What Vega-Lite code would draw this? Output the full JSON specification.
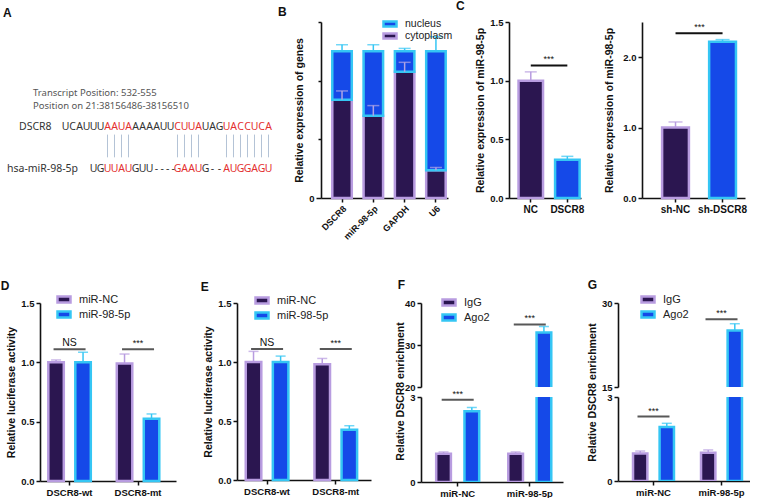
{
"$schema":"https://vega.github.io/schema/vega-lite/v6.json",
"padding":0,
"background":"white",
"config":{
 "view":{"stroke":null},
 "font":"Liberation Sans",
 "axis":{"domainColor":"#111111","domainWidth":1.6,"tickColor":"#111111","tickWidth":1.5,"tickSize":4,"labelColor":"#111111","labelFont":"Liberation Sans","labelFontWeight":"bold","labelFontSize":9.5,"titleFont":"Liberation Sans","titleFontWeight":"bold","titleFontSize":10.5,"titleColor":"#111111","grid":false,"labelPadding":2,"titlePadding":4},
 "legend":{"labelFont":"Liberation Sans","labelFontSize":11,"labelColor":"#222222","symbolStrokeWidth":2.5,"rowPadding":2,"padding":0,"labelOffset":7,"clipHeight":13},
 "title":{"font":"Liberation Sans","fontWeight":"bold","fontSize":12,"anchor":"start","color":"#111111"},
 "text":{"font":"Liberation Sans","color":"#111111"}
},
"datasets":{
 "aHead":[{"txt":"Transcript Position: 532-555","col":-4.64,"row":0},{"txt":"Position on 21:38156486-38156510","col":-4.64,"row":1}],
 "aLab":[{"txt":"DSCR8","col":-6.64,"row":2.6},{"txt":"hsa-miR-98-5p","col":-8.36,"row":5.85}],
 "aLines":[{"col":6},{"col":7},{"col":8},{"col":9},{"col":16},{"col":17},{"col":18},{"col":19},{"col":23},{"col":24},{"col":25},{"col":26},{"col":27},{"col":28},{"col":29}],
 "aSeq":[
  {"row":2.6,"col":0,"ch":"U","pair":"no"},{"row":2.6,"col":1,"ch":"C","pair":"no"},{"row":2.6,"col":2,"ch":"A","pair":"no"},{"row":2.6,"col":3,"ch":"U","pair":"no"},{"row":2.6,"col":4,"ch":"U","pair":"no"},{"row":2.6,"col":5,"ch":"U","pair":"no"},
  {"row":2.6,"col":6,"ch":"A","pair":"yes"},{"row":2.6,"col":7,"ch":"A","pair":"yes"},{"row":2.6,"col":8,"ch":"U","pair":"yes"},{"row":2.6,"col":9,"ch":"A","pair":"yes"},
  {"row":2.6,"col":10,"ch":"A","pair":"no"},{"row":2.6,"col":11,"ch":"A","pair":"no"},{"row":2.6,"col":12,"ch":"A","pair":"no"},{"row":2.6,"col":13,"ch":"A","pair":"no"},{"row":2.6,"col":14,"ch":"U","pair":"no"},{"row":2.6,"col":15,"ch":"U","pair":"no"},
  {"row":2.6,"col":16,"ch":"C","pair":"yes"},{"row":2.6,"col":17,"ch":"U","pair":"yes"},{"row":2.6,"col":18,"ch":"U","pair":"yes"},{"row":2.6,"col":19,"ch":"A","pair":"yes"},
  {"row":2.6,"col":20,"ch":"U","pair":"no"},{"row":2.6,"col":21,"ch":"A","pair":"no"},{"row":2.6,"col":22,"ch":"G","pair":"no"},
  {"row":2.6,"col":23,"ch":"U","pair":"yes"},{"row":2.6,"col":24,"ch":"A","pair":"yes"},{"row":2.6,"col":25,"ch":"C","pair":"yes"},{"row":2.6,"col":26,"ch":"C","pair":"yes"},{"row":2.6,"col":27,"ch":"U","pair":"yes"},{"row":2.6,"col":28,"ch":"C","pair":"yes"},{"row":2.6,"col":29,"ch":"A","pair":"yes"},
  {"row":5.85,"col":4,"ch":"U","pair":"no"},{"row":5.85,"col":5,"ch":"G","pair":"no"},
  {"row":5.85,"col":6,"ch":"U","pair":"yes"},{"row":5.85,"col":7,"ch":"U","pair":"yes"},{"row":5.85,"col":8,"ch":"A","pair":"yes"},{"row":5.85,"col":9,"ch":"U","pair":"yes"},
  {"row":5.85,"col":10,"ch":"G","pair":"no"},{"row":5.85,"col":11,"ch":"U","pair":"no"},{"row":5.85,"col":12,"ch":"U","pair":"no"},
  {"row":5.85,"col":13.0,"ch":"-","pair":"no"},{"row":5.85,"col":13.8,"ch":"-","pair":"no"},{"row":5.85,"col":14.6,"ch":"-","pair":"no"},{"row":5.85,"col":15.4,"ch":"-","pair":"no"},
  {"row":5.85,"col":16,"ch":"G","pair":"yes"},{"row":5.85,"col":17,"ch":"A","pair":"yes"},{"row":5.85,"col":18,"ch":"A","pair":"yes"},{"row":5.85,"col":19,"ch":"U","pair":"yes"},
  {"row":5.85,"col":20,"ch":"G","pair":"no"},{"row":5.85,"col":21,"ch":"-","pair":"no"},{"row":5.85,"col":22,"ch":"-","pair":"no"},
  {"row":5.85,"col":23,"ch":"A","pair":"yes"},{"row":5.85,"col":24,"ch":"U","pair":"yes"},{"row":5.85,"col":25,"ch":"G","pair":"yes"},{"row":5.85,"col":26,"ch":"G","pair":"yes"},{"row":5.85,"col":27,"ch":"A","pair":"yes"},{"row":5.85,"col":28,"ch":"G","pair":"yes"},{"row":5.85,"col":29,"ch":"U","pair":"yes"}
 ],
 "bData":[
  {"gene":"DSCR8","part":"cytoplasm","val":67,"ord":1},{"gene":"DSCR8","part":"nucleus","val":33,"ord":2},
  {"gene":"miR-98-5p","part":"cytoplasm","val":56,"ord":1},{"gene":"miR-98-5p","part":"nucleus","val":44,"ord":2},
  {"gene":"GAPDH","part":"cytoplasm","val":86,"ord":1},{"gene":"GAPDH","part":"nucleus","val":14,"ord":2},
  {"gene":"U6","part":"cytoplasm","val":19,"ord":1},{"gene":"U6","part":"nucleus","val":81,"ord":2}],
 "bErr":[
  {"gene":"DSCR8","part":"cytoplasm","top":67,"err":73},{"gene":"DSCR8","part":"nucleus","top":100,"err":104.5},
  {"gene":"miR-98-5p","part":"cytoplasm","top":56,"err":63},{"gene":"miR-98-5p","part":"nucleus","top":100,"err":104.5},
  {"gene":"GAPDH","part":"cytoplasm","top":86,"err":92.5},{"gene":"GAPDH","part":"nucleus","top":100,"err":102},
  {"gene":"U6","part":"cytoplasm","top":19,"err":20.8},{"gene":"U6","part":"nucleus","top":100,"err":110}],
 "c1Data":[{"cat":"NC","val":1.0,"err":1.075},{"cat":"DSCR8","val":0.325,"err":0.355}],
 "c1Sig":[{"cat":"NC","cat2":"DSCR8","y":1.13,"lab":"***"}],
 "c2Data":[{"cat":"sh-NC","val":1.0,"err":1.08},{"cat":"sh-DSCR8","val":2.22,"err":2.25}],
 "c2Sig":[{"cat":"sh-NC","cat2":"sh-DSCR8","y":2.34,"lab":"***"}],
 "dData":[{"cat":"DSCR8-wt","grp":"miR-NC","val":1.0,"err":1.02},{"cat":"DSCR8-wt","grp":"miR-98-5p","val":1.0,"err":1.085},{"cat":"DSCR8-mt","grp":"miR-NC","val":0.99,"err":1.07},{"cat":"DSCR8-mt","grp":"miR-98-5p","val":0.525,"err":0.565}],
 "dSig":[{"cat":"DSCR8-wt","y":1.11,"lab":"NS"},{"cat":"DSCR8-mt","y":1.11,"lab":"***"}],
 "eData":[{"cat":"DSCR8-wt","grp":"miR-NC","val":1.0,"err":1.09},{"cat":"DSCR8-wt","grp":"miR-98-5p","val":1.0,"err":1.05},{"cat":"DSCR8-mt","grp":"miR-NC","val":0.98,"err":1.03},{"cat":"DSCR8-mt","grp":"miR-98-5p","val":0.425,"err":0.46}],
 "eSig":[{"cat":"DSCR8-wt","y":1.11,"lab":"NS"},{"cat":"DSCR8-mt","y":1.11,"lab":"***"}],
 "fData":[{"cat":"miR-NC","grp":"IgG","val":1.0,"err":1.06},{"cat":"miR-NC","grp":"Ago2","val":2.5,"err":2.63},{"cat":"miR-98-5p","grp":"IgG","val":1.0,"err":1.06},{"cat":"miR-98-5p","grp":"Ago2","val":33.0,"err":34.4}],
 "fSig":[{"cat":"miR-NC","y":2.9,"lab":"***","seg":"bottom"},{"cat":"miR-98-5p","y":34.9,"lab":"***","seg":"top"}],
 "gData":[{"cat":"miR-NC","grp":"IgG","val":0.98,"err":1.07},{"cat":"miR-NC","grp":"Ago2","val":1.93,"err":2.06},{"cat":"miR-98-5p","grp":"IgG","val":1.01,"err":1.11},{"cat":"miR-98-5p","grp":"Ago2","val":25.1,"err":26.3}],
 "gSig":[{"cat":"miR-NC","y":2.3,"lab":"***","seg":"bottom"},{"cat":"miR-98-5p","y":27.1,"lab":"***","seg":"top"}]
},
"columns":1,
"align":"none",
"spacing":37,
"resolve":{"scale":{"fill":"independent","stroke":"independent","color":"independent","xOffset":"independent"}},
"concat":[
 {"concat":[
  {"width":235,"height":195,
   "title":{"text":"A","dx":-4,"offset":2},
   "layer":[
    {"data":{"name":"aHead"},"mark":{"type":"text","align":"left","baseline":"middle","font":"Noto Sans","fontSize":9.5,"color":"#555555"},
     "encoding":{"x":{"field":"col","type":"quantitative","scale":{"domain":[-3.643,29.93],"nice":false,"zero":false},"axis":null},"y":{"field":"row","type":"quantitative","scale":{"domain":[-5.46,9.54],"nice":false,"zero":false,"reverse":true},"axis":null},"text":{"field":"txt"}}},
    {"data":{"name":"aLab"},"mark":{"type":"text","align":"left","baseline":"middle","font":"Noto Sans","fontSize":10.5,"color":"#333333"},
     "encoding":{"x":{"field":"col","type":"quantitative"},"y":{"field":"row","type":"quantitative"},"text":{"field":"txt"}}},
    {"data":{"name":"aLines"},"mark":{"type":"rule","color":"#b4c3d6","strokeWidth":1},
     "encoding":{"x":{"field":"col","type":"quantitative"},"y":{"datum":3.2},"y2":{"datum":4.95}}},
    {"data":{"name":"aSeq"},"mark":{"type":"text","align":"center","baseline":"middle","font":"Noto Sans","fontSize":10.5},
     "encoding":{"x":{"field":"col","type":"quantitative"},"y":{"field":"row","type":"quantitative"},"text":{"field":"ch"},"color":{"field":"pair","type":"nominal","scale":{"domain":["yes","no"],"range":["#e3302f","#333333"]},"legend":null}}}
   ]},
  {"concat":[
   {"width":127,"height":176,
    "title":{"text":"B","frame":"group","dx":-43,"offset":0},
    "encoding":{"x":{"field":"gene","type":"nominal","sort":null,"scale":{"domain":["DSCR8","miR-98-5p","GAPDH","U6"],"paddingInner":0.377,"paddingOuter":0.217,"align":0.83},"axis":{"title":null,"labelAngle":-45,"labelFontSize":9}}},
    "layer":[
     {"data":{"name":"bData"},"mark":{"type":"bar","strokeWidth":2.5},
      "encoding":{"y":{"field":"val","type":"quantitative","stack":"zero","scale":{"domain":[0,120],"nice":false},"axis":{"title":"Relative expression of genes","values":[0,10,20,30,40,50,60,70,80,90,100,110,120],"labelExpr":"datum.value % 50 === 0 ? datum.label : ''","tickSize":{"condition":{"test":"datum.value % 50 === 0","value":5},"value":3}}},
       "fill":{"field":"part","type":"nominal","scale":{"domain":["nucleus","cytoplasm"],"range":["#1549e8","#2b1650"]},"legend":{"title":null,"orient":"none","legendX":61,"legendY":-3.5,"symbolType":"M-1,-0.4H1V0.4H-1Z","symbolSize":169,"labelFontSize":10.5,"rowPadding":1,"clipHeight":11}},
       "stroke":{"field":"part","type":"nominal","scale":{"domain":["nucleus","cytoplasm"],"range":["#35c6f4","#b89ce0"]},"legend":{"title":null,"orient":"none","legendX":61,"legendY":-3.5,"symbolType":"M-1,-0.4H1V0.4H-1Z","symbolSize":169,"labelFontSize":10.5,"rowPadding":1,"clipHeight":11}},
       "order":{"field":"ord","type":"quantitative"}}},
     {"data":{"name":"bErr"},"mark":{"type":"rule","strokeWidth":1.5},
      "encoding":{"y":{"field":"top","type":"quantitative"},"y2":{"field":"err"},"color":{"field":"part","type":"nominal","scale":{"domain":["nucleus","cytoplasm"],"range":["#35c6f4","#b0a4e4"]},"legend":null}}},
     {"data":{"name":"bErr"},"mark":{"type":"tick","thickness":1.5,"size":12},
      "encoding":{"y":{"field":"err","type":"quantitative"},"color":{"field":"part","type":"nominal","legend":null}}}
    ]},
   {"concat":[
    {"width":72,"height":176,
     "title":{"text":"C","frame":"group","dx":-53,"offset":-5,"dy":-9},
     "data":{"name":"c1Data"},
     "encoding":{"x":{"field":"cat","type":"nominal","sort":null,"scale":{"domain":["NC","DSCR8"],"paddingInner":0.33,"paddingOuter":0.15,"align":0.87},"axis":{"title":null,"labelAngle":0,"labelFontSize":10}}},
     "layer":[
      {"mark":{"type":"bar","strokeWidth":2.5},
       "encoding":{"y":{"field":"val","type":"quantitative","scale":{"domain":[0,1.5],"nice":false},"axis":{"title":"Relative expression of miR-98-5p","values":[0,0.5,1,1.5],"format":".1f"}},
        "fill":{"field":"cat","type":"nominal","scale":{"domain":["NC","DSCR8"],"range":["#2b1650","#1549e8"]},"legend":null},
        "stroke":{"field":"cat","type":"nominal","scale":{"domain":["NC","DSCR8"],"range":["#b89ce0","#35c6f4"]},"legend":null}}},
      {"mark":{"type":"rule","strokeWidth":1.5},"encoding":{"y":{"field":"val","type":"quantitative"},"y2":{"field":"err"},"color":{"field":"cat","type":"nominal","scale":{"domain":["NC","DSCR8"],"range":["#b89ce0","#35c6f4"]},"legend":null}}},
      {"mark":{"type":"tick","thickness":1.5,"size":12},"encoding":{"y":{"field":"err","type":"quantitative"},"color":{"field":"cat","type":"nominal","legend":null}}},
      {"data":{"name":"c1Sig"},"mark":{"type":"rule","strokeWidth":2,"color":"#111111"},"encoding":{"x2":{"field":"cat2"},"y":{"field":"y","type":"quantitative"}}},
      {"data":{"name":"c1Sig"},"mark":{"type":"text","baseline":"bottom","dy":-1,"dx":18,"fontSize":9},"encoding":{"y":{"field":"y","type":"quantitative"},"text":{"field":"lab"}}}
     ]},
    {"width":103,"height":176,
     "data":{"name":"c2Data"},
     "encoding":{"x":{"field":"cat","type":"nominal","sort":null,"scale":{"domain":["sh-NC","sh-DSCR8"],"paddingInner":0.43,"paddingOuter":0.31,"align":0.69},"axis":{"title":null,"labelAngle":0,"labelFontSize":10}}},
     "layer":[
      {"mark":{"type":"bar","strokeWidth":2.5},
       "encoding":{"y":{"field":"val","type":"quantitative","scale":{"domain":[0,2.5],"nice":false},"axis":{"title":"Relative expression of miR-98-5p","values":[0,0.5,1,1.5,2,2.5],"format":".1f","titlePadding":8}},
        "fill":{"field":"cat","type":"nominal","scale":{"domain":["sh-NC","sh-DSCR8"],"range":["#2b1650","#1549e8"]},"legend":null},
        "stroke":{"field":"cat","type":"nominal","scale":{"domain":["sh-NC","sh-DSCR8"],"range":["#b89ce0","#35c6f4"]},"legend":null}}},
      {"mark":{"type":"rule","strokeWidth":1.5},"encoding":{"y":{"field":"val","type":"quantitative"},"y2":{"field":"err"},"color":{"field":"cat","type":"nominal","scale":{"domain":["sh-NC","sh-DSCR8"],"range":["#b89ce0","#35c6f4"]},"legend":null}}},
      {"mark":{"type":"tick","thickness":1.5,"size":14},"encoding":{"y":{"field":"err","type":"quantitative"},"color":{"field":"cat","type":"nominal","legend":null}}},
      {"data":{"name":"c2Sig"},"mark":{"type":"rule","strokeWidth":2,"color":"#111111"},"encoding":{"x2":{"field":"cat2"},"y":{"field":"y","type":"quantitative"}}},
      {"data":{"name":"c2Sig"},"mark":{"type":"text","baseline":"bottom","dy":-1,"dx":24,"fontSize":9},"encoding":{"y":{"field":"y","type":"quantitative"},"text":{"field":"lab"}}}
     ]}
   ],"columns":2,"align":"none","spacing":20,
   "resolve":{"scale":{"fill":"independent","stroke":"independent","color":"independent"}}}
  ],"columns":2,"align":"none","spacing":3,
  "resolve":{"scale":{"fill":"independent","stroke":"independent","color":"independent"}}}
 ],"columns":2,"align":"none","spacing":3,
 "resolve":{"scale":{"fill":"independent","stroke":"independent","color":"independent"}}},
 {"concat":[
  {"width":136,"height":178,
   "title":{"text":"D","dx":-6,"offset":1,"dy":1},
   "encoding":{"x":{"field":"cat","type":"nominal","sort":null,"scale":{"domain":["DSCR8-wt","DSCR8-mt"],"paddingInner":0.27,"paddingOuter":0.128,"align":0.26},"axis":{"title":null,"labelAngle":0}}},
   "layer":[
    {"data":{"name":"dData"},"mark":{"type":"bar","strokeWidth":2.5},
     "encoding":{"xOffset":{"field":"grp","type":"nominal","sort":null,"scale":{"domain":["miR-NC","miR-98-5p"],"paddingInner":0.426,"paddingOuter":0.139}},
      "y":{"field":"val","type":"quantitative","scale":{"domain":[0,1.5],"nice":false},"axis":{"title":"Relative luciferase activity","values":[0,0.5,1,1.5],"format":".1f"}},
      "fill":{"field":"grp","type":"nominal","scale":{"domain":["miR-NC","miR-98-5p"],"range":["#2b1650","#1549e8"]},"legend":{"title":null,"orient":"none","legendX":16,"legendY":-10,"symbolType":"M-1,-0.45H1V0.45H-1Z","symbolSize":169}},
      "stroke":{"field":"grp","type":"nominal","scale":{"domain":["miR-NC","miR-98-5p"],"range":["#b89ce0","#35c6f4"]},"legend":{"title":null,"orient":"none","legendX":16,"legendY":-10,"symbolType":"M-1,-0.45H1V0.45H-1Z","symbolSize":169}}}},
    {"data":{"name":"dData"},"mark":{"type":"rule","strokeWidth":1.5},"encoding":{"xOffset":{"field":"grp","type":"nominal"},"y":{"field":"val","type":"quantitative"},"y2":{"field":"err"},"color":{"field":"grp","type":"nominal","scale":{"domain":["miR-NC","miR-98-5p"],"range":["#b89ce0","#35c6f4"]},"legend":null}}},
    {"data":{"name":"dData"},"mark":{"type":"tick","thickness":1.5,"size":10},"encoding":{"xOffset":{"field":"grp","type":"nominal"},"y":{"field":"err","type":"quantitative"},"color":{"field":"grp","type":"nominal","legend":null}}},
    {"data":{"name":"dSig"},"mark":{"type":"tick","thickness":2,"size":32,"color":"#111111"},"encoding":{"y":{"field":"y","type":"quantitative"}}},
    {"data":{"name":"dSig"},"transform":[{"filter":"datum.lab === 'NS'"}],"mark":{"type":"text","baseline":"bottom","dy":-1,"fontSize":10.5},"encoding":{"y":{"field":"y","type":"quantitative"},"text":{"field":"lab"}}},
    {"data":{"name":"dSig"},"transform":[{"filter":"datum.lab !== 'NS'"}],"mark":{"type":"text","baseline":"bottom","dy":-1,"fontSize":9},"encoding":{"y":{"field":"y","type":"quantitative"},"text":{"field":"lab"}}}
   ]},
  {"width":134,"height":177,
   "title":{"text":"E","dx":-3,"offset":1,"dy":1},
   "encoding":{"x":{"field":"cat","type":"nominal","sort":null,"scale":{"domain":["DSCR8-wt","DSCR8-mt"],"paddingInner":0.27,"paddingOuter":0.11,"align":0.33},"axis":{"title":null,"labelAngle":0}}},
   "layer":[
    {"data":{"name":"eData"},"mark":{"type":"bar","strokeWidth":2.5},
     "encoding":{"xOffset":{"field":"grp","type":"nominal","sort":null,"scale":{"domain":["miR-NC","miR-98-5p"],"paddingInner":0.426,"paddingOuter":0.139}},
      "y":{"field":"val","type":"quantitative","scale":{"domain":[0,1.5],"nice":false},"axis":{"title":"Relative luciferase activity","values":[0,0.5,1,1.5],"format":".1f"}},
      "fill":{"field":"grp","type":"nominal","scale":{"domain":["miR-NC","miR-98-5p"],"range":["#2b1650","#1549e8"]},"legend":{"title":null,"orient":"none","legendX":17,"legendY":-9,"symbolType":"M-1,-0.45H1V0.45H-1Z","symbolSize":169}},
      "stroke":{"field":"grp","type":"nominal","scale":{"domain":["miR-NC","miR-98-5p"],"range":["#b89ce0","#35c6f4"]},"legend":{"title":null,"orient":"none","legendX":17,"legendY":-9,"symbolType":"M-1,-0.45H1V0.45H-1Z","symbolSize":169}}}},
    {"data":{"name":"eData"},"mark":{"type":"rule","strokeWidth":1.5},"encoding":{"xOffset":{"field":"grp","type":"nominal"},"y":{"field":"val","type":"quantitative"},"y2":{"field":"err"},"color":{"field":"grp","type":"nominal","scale":{"domain":["miR-NC","miR-98-5p"],"range":["#b89ce0","#35c6f4"]},"legend":null}}},
    {"data":{"name":"eData"},"mark":{"type":"tick","thickness":1.5,"size":10},"encoding":{"xOffset":{"field":"grp","type":"nominal"},"y":{"field":"err","type":"quantitative"},"color":{"field":"grp","type":"nominal","legend":null}}},
    {"data":{"name":"eSig"},"mark":{"type":"tick","thickness":2,"size":32,"color":"#111111"},"encoding":{"y":{"field":"y","type":"quantitative"}}},
    {"data":{"name":"eSig"},"transform":[{"filter":"datum.lab === 'NS'"}],"mark":{"type":"text","baseline":"bottom","dy":-1,"fontSize":10.5},"encoding":{"y":{"field":"y","type":"quantitative"},"text":{"field":"lab"}}},
    {"data":{"name":"eSig"},"transform":[{"filter":"datum.lab !== 'NS'"}],"mark":{"type":"text","baseline":"bottom","dy":-1,"fontSize":9},"encoding":{"y":{"field":"y","type":"quantitative"},"text":{"field":"lab"}}}
   ]},
  {"title":{"text":"F","dx":2,"offset":5,"dy":1},
   "bounds":"flush",
   "spacing":10,
   "resolve":{"scale":{"fill":"independent","stroke":"independent","color":"independent","xOffset":"independent"}},
   "vconcat":[
    {"width":142,"height":84,
     "encoding":{"x":{"field":"cat","type":"nominal","sort":null,"scale":{"domain":["miR-NC","miR-98-5p"],"paddingInner":0.27,"paddingOuter":0.12,"align":0.6},"axis":null}},
     "layer":[
      {"data":{"name":"fData"},"transform":[{"filter":"datum.val > 20"}],"mark":{"type":"bar","strokeWidth":2.5,"clip":true},
       "encoding":{"xOffset":{"field":"grp","type":"nominal","sort":null,"scale":{"domain":["IgG","Ago2"],"paddingInner":0.48,"paddingOuter":0.17}},
        "y":{"field":"val","type":"quantitative","scale":{"domain":[20,40],"nice":false,"zero":false},"axis":{"title":null,"values":[20,25,30,35,40]}},
        "fill":{"field":"grp","type":"nominal","scale":{"domain":["IgG","Ago2"],"range":["#2b1650","#1549e8"]},"legend":{"title":null,"orient":"none","legendX":20,"legendY":-7,"symbolType":"M-1,-0.45H1V0.45H-1Z","symbolSize":169}},
        "stroke":{"field":"grp","type":"nominal","scale":{"domain":["IgG","Ago2"],"range":["#b89ce0","#35c6f4"]},"legend":{"title":null,"orient":"none","legendX":20,"legendY":-7,"symbolType":"M-1,-0.45H1V0.45H-1Z","symbolSize":169}}}},
      {"data":{"name":"fData"},"transform":[{"filter":"datum.val > 20"}],"mark":{"type":"rule","strokeWidth":1.5},"encoding":{"xOffset":{"field":"grp","type":"nominal"},"y":{"field":"val","type":"quantitative"},"y2":{"field":"err"},"color":{"field":"grp","type":"nominal","scale":{"domain":["IgG","Ago2"],"range":["#b89ce0","#35c6f4"]},"legend":null}}},
      {"data":{"name":"fData"},"transform":[{"filter":"datum.val > 20"}],"mark":{"type":"tick","thickness":1.5,"size":10},"encoding":{"xOffset":{"field":"grp","type":"nominal"},"y":{"field":"err","type":"quantitative"},"color":{"field":"grp","type":"nominal","legend":null}}},
      {"data":{"name":"fSig"},"transform":[{"filter":"datum.seg === 'top'"}],"mark":{"type":"tick","thickness":2,"size":32,"color":"#111111"},"encoding":{"y":{"field":"y","type":"quantitative"}}},
      {"data":{"name":"fSig"},"transform":[{"filter":"datum.seg === 'top'"}],"mark":{"type":"text","baseline":"bottom","dy":-1,"fontSize":9},"encoding":{"y":{"field":"y","type":"quantitative"},"text":{"field":"lab"}}}
     ]},
    {"width":142,"height":85,
     "encoding":{"x":{"field":"cat","type":"nominal","sort":null,"scale":{"domain":["miR-NC","miR-98-5p"],"paddingInner":0.27,"paddingOuter":0.12,"align":0.6},"axis":{"title":null,"labelAngle":0}}},
     "layer":[
      {"data":{"name":"fData"},"mark":{"type":"bar","strokeWidth":2.5,"clip":true},
       "encoding":{"xOffset":{"field":"grp","type":"nominal","sort":null,"scale":{"domain":["IgG","Ago2"],"paddingInner":0.48,"paddingOuter":0.17}},
        "y":{"field":"val","type":"quantitative","scale":{"domain":[0,3],"nice":false},"axis":{"title":"Relative DSCR8 enrichment","values":[0,1,2,3],"titleY":-6}},
        "fill":{"field":"grp","type":"nominal","scale":{"domain":["IgG","Ago2"],"range":["#2b1650","#1549e8"]},"legend":null},
        "stroke":{"field":"grp","type":"nominal","scale":{"domain":["IgG","Ago2"],"range":["#b89ce0","#35c6f4"]},"legend":null}}},
      {"data":{"name":"fData"},"transform":[{"filter":"datum.err <= 3"}],"mark":{"type":"rule","strokeWidth":1.5},"encoding":{"xOffset":{"field":"grp","type":"nominal"},"y":{"field":"val","type":"quantitative"},"y2":{"field":"err"},"color":{"field":"grp","type":"nominal","scale":{"domain":["IgG","Ago2"],"range":["#b89ce0","#35c6f4"]},"legend":null}}},
      {"data":{"name":"fData"},"transform":[{"filter":"datum.err <= 3"}],"mark":{"type":"tick","thickness":1.5,"size":10},"encoding":{"xOffset":{"field":"grp","type":"nominal"},"y":{"field":"err","type":"quantitative"},"color":{"field":"grp","type":"nominal","legend":null}}},
      {"data":{"name":"fSig"},"transform":[{"filter":"datum.seg === 'bottom'"}],"mark":{"type":"tick","thickness":2,"size":32,"color":"#111111"},"encoding":{"y":{"field":"y","type":"quantitative"}}},
      {"data":{"name":"fSig"},"transform":[{"filter":"datum.seg === 'bottom'"}],"mark":{"type":"text","baseline":"bottom","dy":-1,"fontSize":9},"encoding":{"y":{"field":"y","type":"quantitative"},"text":{"field":"lab"}}}
     ]}
   ]},
  {"title":{"text":"G","dx":0,"offset":2,"dy":1},
   "bounds":"flush",
   "spacing":10,
   "resolve":{"scale":{"fill":"independent","stroke":"independent","color":"independent","xOffset":"independent"}},
   "vconcat":[
    {"width":132,"height":84,
     "encoding":{"x":{"field":"cat","type":"nominal","sort":null,"scale":{"domain":["miR-NC","miR-98-5p"],"paddingInner":0.265,"paddingOuter":0.103,"align":0.75},"axis":null}},
     "layer":[
      {"data":{"name":"gData"},"transform":[{"filter":"datum.val > 15"}],"mark":{"type":"bar","strokeWidth":2.5,"clip":true},
       "encoding":{"xOffset":{"field":"grp","type":"nominal","sort":null,"scale":{"domain":["IgG","Ago2"],"paddingInner":0.46,"paddingOuter":0.17}},
        "y":{"field":"val","type":"quantitative","scale":{"domain":[15,30],"nice":false,"zero":false},"axis":{"title":null,"values":[15,20,25,30],"titlePadding":9}},
        "fill":{"field":"grp","type":"nominal","scale":{"domain":["IgG","Ago2"],"range":["#2b1650","#1549e8"]},"legend":{"title":null,"orient":"none","legendX":22,"legendY":-10,"symbolType":"M-1,-0.45H1V0.45H-1Z","symbolSize":169}},
        "stroke":{"field":"grp","type":"nominal","scale":{"domain":["IgG","Ago2"],"range":["#b89ce0","#35c6f4"]},"legend":{"title":null,"orient":"none","legendX":22,"legendY":-10,"symbolType":"M-1,-0.45H1V0.45H-1Z","symbolSize":169}}}},
      {"data":{"name":"gData"},"transform":[{"filter":"datum.val > 15"}],"mark":{"type":"rule","strokeWidth":1.5},"encoding":{"xOffset":{"field":"grp","type":"nominal"},"y":{"field":"val","type":"quantitative"},"y2":{"field":"err"},"color":{"field":"grp","type":"nominal","scale":{"domain":["IgG","Ago2"],"range":["#b89ce0","#35c6f4"]},"legend":null}}},
      {"data":{"name":"gData"},"transform":[{"filter":"datum.val > 15"}],"mark":{"type":"tick","thickness":1.5,"size":10},"encoding":{"xOffset":{"field":"grp","type":"nominal"},"y":{"field":"err","type":"quantitative"},"color":{"field":"grp","type":"nominal","legend":null}}},
      {"data":{"name":"gSig"},"transform":[{"filter":"datum.seg === 'top'"}],"mark":{"type":"tick","thickness":2,"size":32,"color":"#111111"},"encoding":{"y":{"field":"y","type":"quantitative"}}},
      {"data":{"name":"gSig"},"transform":[{"filter":"datum.seg === 'top'"}],"mark":{"type":"text","baseline":"bottom","dy":-1,"fontSize":9},"encoding":{"y":{"field":"y","type":"quantitative"},"text":{"field":"lab"}}}
     ]},
    {"width":132,"height":84,
     "encoding":{"x":{"field":"cat","type":"nominal","sort":null,"scale":{"domain":["miR-NC","miR-98-5p"],"paddingInner":0.265,"paddingOuter":0.103,"align":0.75},"axis":{"title":null,"labelAngle":0}}},
     "layer":[
      {"data":{"name":"gData"},"mark":{"type":"bar","strokeWidth":2.5,"clip":true},
       "encoding":{"xOffset":{"field":"grp","type":"nominal","sort":null,"scale":{"domain":["IgG","Ago2"],"paddingInner":0.46,"paddingOuter":0.17}},
        "y":{"field":"val","type":"quantitative","scale":{"domain":[0,3],"nice":false},"axis":{"title":"Relative DSCR8 enrichment","values":[0,1,2,3],"titleY":-5,"titlePadding":9}},
        "fill":{"field":"grp","type":"nominal","scale":{"domain":["IgG","Ago2"],"range":["#2b1650","#1549e8"]},"legend":null},
        "stroke":{"field":"grp","type":"nominal","scale":{"domain":["IgG","Ago2"],"range":["#b89ce0","#35c6f4"]},"legend":null}}},
      {"data":{"name":"gData"},"transform":[{"filter":"datum.err <= 3"}],"mark":{"type":"rule","strokeWidth":1.5},"encoding":{"xOffset":{"field":"grp","type":"nominal"},"y":{"field":"val","type":"quantitative"},"y2":{"field":"err"},"color":{"field":"grp","type":"nominal","scale":{"domain":["IgG","Ago2"],"range":["#b89ce0","#35c6f4"]},"legend":null}}},
      {"data":{"name":"gData"},"transform":[{"filter":"datum.err <= 3"}],"mark":{"type":"tick","thickness":1.5,"size":10},"encoding":{"xOffset":{"field":"grp","type":"nominal"},"y":{"field":"err","type":"quantitative"},"color":{"field":"grp","type":"nominal","legend":null}}},
      {"data":{"name":"gSig"},"transform":[{"filter":"datum.seg === 'bottom'"}],"mark":{"type":"tick","thickness":2,"size":32,"color":"#111111"},"encoding":{"y":{"field":"y","type":"quantitative"}}},
      {"data":{"name":"gSig"},"transform":[{"filter":"datum.seg === 'bottom'"}],"mark":{"type":"text","baseline":"bottom","dy":-1,"fontSize":9},"encoding":{"y":{"field":"y","type":"quantitative"},"text":{"field":"lab"}}}
     ]}
   ]}
 ],"columns":4,"align":"none","spacing":24,
 "resolve":{"scale":{"fill":"independent","stroke":"independent","color":"independent","xOffset":"independent"}}}
]
}
